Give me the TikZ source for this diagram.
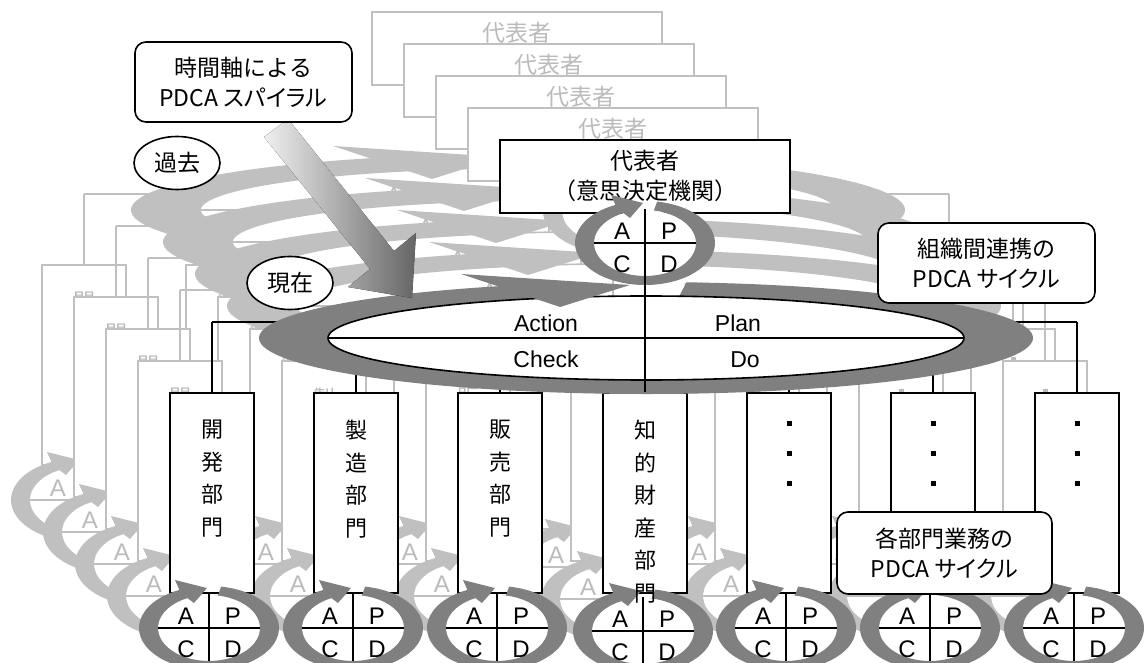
\documentclass[tikz,border=0pt]{standalone}
\usepackage{fontspec}
\setmainfont{Liberation Sans}
\newfontfamily\jp{Noto Sans CJK JP}
\newfontfamily\jpp{Noto Sans CJK JP}[RawFeature=+palt]
\usetikzlibrary{shapes.geometric}
\definecolor{darkband}{HTML}{808080}
\definecolor{ghostgray}{HTML}{C0C0C0}
\definecolor{ghosttext}{HTML}{BBBBBB}
\definecolor{arrowdark}{HTML}{656565}
\colorlet{lc}{black}
\colorlet{bc}{darkband}
\colorlet{tc}{black}
\tikzset{
  ln/.style={draw=lc, line width=1.6pt},
  deptbox/.style={ln, fill=white, minimum width=84pt, minimum height=200pt, inner sep=0pt},
  topbox/.style={ln, fill=white, minimum width=290pt, minimum height=73pt, inner sep=0pt},
  depttext/.style={text=tc, font=\jp\fontsize{22}{32.5}\selectfont, align=center, inner sep=0pt, anchor=north},
  toptext/.style={text=tc, font=\jp\fontsize{23}{30}\selectfont, align=center, inner sep=0pt},
  lettertext/.style={text=tc, font=\fontsize{24}{28}\selectfont, inner sep=0pt},
  wordtext/.style={text=tc, font=\fontsize{23}{28}\selectfont, inner sep=0pt},
  dotsq/.style={fill=tc, minimum size=5pt, inner sep=0pt},
  labelbox/.style={draw=black, line width=1.6pt, fill=white, rounded corners=11pt, minimum width=217pt, minimum height=80pt, align=center, font=\jp\fontsize{23}{30}\selectfont, inner sep=0pt},
  oval/.style={draw=black, line width=1.6pt, fill=white, ellipse, minimum width=86pt, minimum height=53pt, inner sep=0pt, font=\jp\fontsize{23}{28}\selectfont},
  pdcaring/.pic={
    \fill[white] (0,0) ellipse[x radius=51, y radius=33];
    \fill[bc] (-80:70 and 42) arc[start angle=-80, end angle=245, x radius=70, y radius=42]
      -- (-34,-48) -- (-2,-40) -- (-15,-25) -- (245:51 and 33)
      arc[start angle=245, end angle=-80, x radius=51, y radius=33] -- cycle;
    \draw[ln] (-51,0) -- (51,0);
    \draw[ln] (0,-34) -- (0,33);
    \node[lettertext] (ra) at (-23,-12) {A};
    \node[lettertext] (rp) at (24,-12) {P};
    \node[lettertext] (rc) at (-23,21) {C};
    \node[lettertext] (rd) at (24,21) {D};
  },
  swoosh/.pic={
    \fill[bc] (-84:387 and 56) arc[start angle=-84, end angle=250, x radius=387, y radius=56]
      -- (250:318 and 42) arc[start angle=250, end angle=-84, x radius=318, y radius=42] -- cycle;
    \draw[ln, fill=white] (0,0) ellipse[x radius=318, y radius=42];
    \draw[ln] (-318,0) -- (318,0);
    \fill[bc] (-185,-64) -- (-16,-53) -- (-86,-31) -- cycle;
    \node[wordtext] (act) at (-100,-15) {Action};
    \node[wordtext] (pln) at (92,-15) {Plan};
    \node[wordtext] (chk) at (-100,21) {Check};
    \node[wordtext] (doo) at (99,22) {Do};
  }
}
\newcommand\pdcalayer{%
  \draw[ln] (212,322) -- (1077,322);
  \foreach \xx in {212,356,500,789,933,1077}{\draw[ln] (\xx,322) -- (\xx,393);}
  \node[deptbox] (b1) at (212,493) {};
  \node[deptbox] (b2) at (356,493) {};
  \node[deptbox] (b3) at (500,493) {};
  \node[deptbox] (b4) at (645,493) {};
  \node[deptbox] (b5) at (789,493) {};
  \node[deptbox] (b6) at (933,493) {};
  \node[deptbox] (b7) at (1077,493) {};
  \foreach \xx in {789,933,1077}{\foreach \yy in {423,453,483}{\node[dotsq] (dot\xx-\yy) at (\xx,\yy) {};}}
  \foreach \xx in {212,356,500,789,933,1077}{\pic at (\xx-3,628) {pdcaring};}
  \pic at (643,631) {pdcaring};
  \node[depttext] (t1) at (212,420) {開\\発\\部\\門};
  \node[depttext] (t2) at (356,420) {製\\造\\部\\門};
  \node[depttext] (t3) at (500,420) {販\\売\\部\\門};
  \node[depttext] (t4) at (645,420) {知\\的\\財\\産\\部\\門};
  \pic at (646,338) {swoosh};
  \node[topbox] (top) at (645,176.5) {};
  \node[toptext] (toptxt) at (645,176) {代表者\\（意思決定機関）};
  \pic at (645,243) {pdcaring};
  \draw[ln] (top.south) -- (b4.north);
}
\begin{document}
\begin{tikzpicture}[x=1pt,y=-1pt]
\useasboundingbox (0,0) rectangle (1144,663);
\foreach \k in {4,3,2,1}{
  \begin{scope}[shift={(-32*\k,-32*\k)}]
    \colorlet{lc}{ghostgray}\colorlet{bc}{ghostgray}\colorlet{tc}{ghosttext}
    \pdcalayer
  \end{scope}
}
\pdcalayer
\fill[left color=black!6, right color=arrowdark] (288,119) -- (394,251) -- (416,233) -- (412,298) -- (348,287) -- (370,269) -- (264,137) -- cycle;
\node[labelbox] (lab1) at (243.5,82) {時間軸による\\{\jpp PDCA スパイラル}};
\node[oval] (past) at (177,163) {過去};
\node[oval] (now) at (290,283) {現在};
\node[labelbox] (lab2) at (986.5,263) {組織間連携の\\{\jpp PDCA サイクル}};
\node[labelbox, minimum width=215pt, minimum height=82pt] (lab3) at (944.5,553) {各部門業務の\\{\jpp PDCA サイクル}};
\end{tikzpicture}
\end{document}
